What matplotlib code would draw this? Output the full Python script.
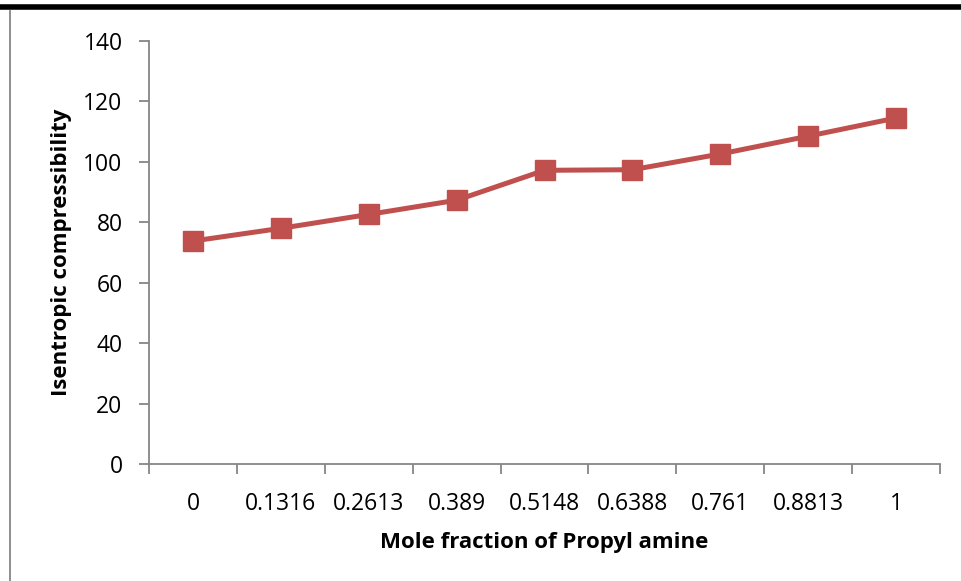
import matplotlib
matplotlib.use("Agg")
import matplotlib.pyplot as plt
from matplotlib.lines import Line2D

categories = ["0", "0.1316", "0.2613", "0.389", "0.5148", "0.6388", "0.761", "0.8813", "1"]
values = [73.8, 78.0, 82.6, 87.3, 97.2, 97.4, 102.6, 108.5, 114.5]
yticks = [0, 20, 40, 60, 80, 100, 120, 140]

plt.rcParams['font.family'] = ['Open Sans', 'DejaVu Sans']

fig = plt.figure(figsize=(9.61, 5.81), dpi=100)
ax = fig.add_axes([149/961, 1 - 464/581, (940-149)/961, (464-41)/581])

x = list(range(len(categories)))
ax.plot(x, values, color='#C0504D', linewidth=3.6, marker='s', markersize=14,
        markeredgecolor='#C0504D', markerfacecolor='#C0504D')

ax.set_xlim(-0.5, len(categories) - 0.5)
ax.set_ylim(0, 140)
ax.set_yticks(yticks)
ax.set_yticklabels([str(t) for t in yticks], fontsize=16.5)
ax.set_xticks(x)
ax.set_xticklabels(categories, fontsize=16.5)
ax.tick_params(axis='x', length=0, pad=20)
# category boundary ticks
ax.set_xticks([i - 0.5 for i in range(len(categories) + 1)], minor=True)
ax.tick_params(axis='x', which='minor', length=7, color='#868686', width=1.3)
ax.tick_params(axis='y', length=7, color='#868686', width=1.3, pad=12)

for s in ['top', 'right']:
    ax.spines[s].set_visible(False)
for s in ['left', 'bottom']:
    ax.spines[s].set_color('#868686')
    ax.spines[s].set_linewidth(1.3)

ax.set_xlabel('Mole fraction of Propyl amine', fontsize=16, fontweight='bold', labelpad=12)
ax.set_ylabel('Isentropic compressibility', fontsize=16, fontweight='bold', labelpad=8)

# page decorations: top black rule and left gray border
fig.add_artist(Line2D([2/961, 1], [1 - 7/581, 1 - 7/581], transform=fig.transFigure,
                      color='black', linewidth=4))
fig.add_artist(Line2D([9.5/961, 9.5/961], [0, 1 - 11/581], transform=fig.transFigure,
                      color='#868686', linewidth=1.3))

fig.savefig('out.png', dpi=100)
